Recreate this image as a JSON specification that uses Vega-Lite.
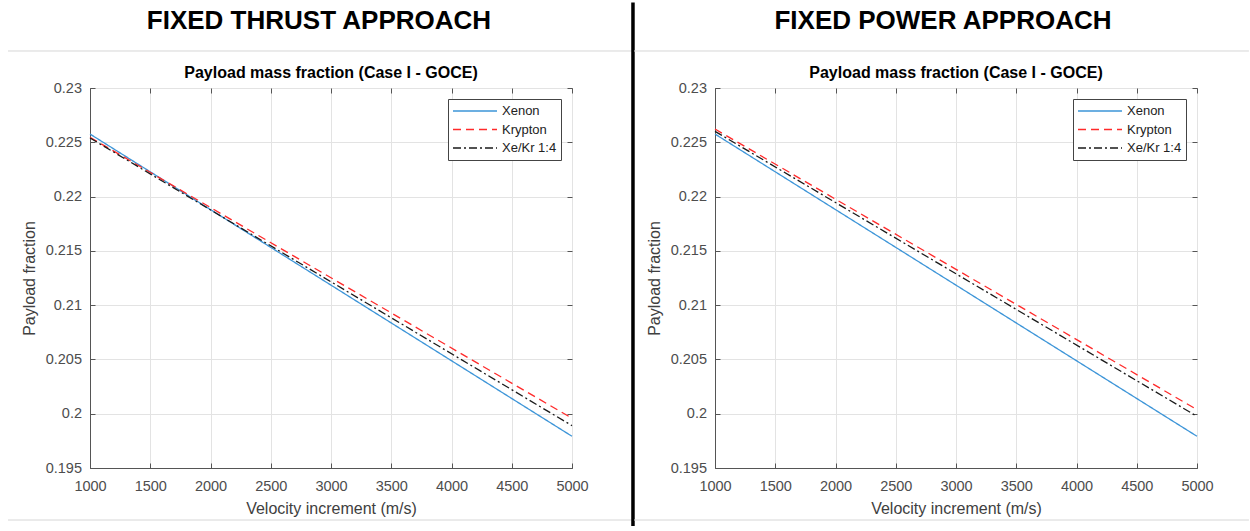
{
  "$schema": "https://vega.github.io/schema/vega-lite/v6.json",
  "autosize": {"type": "pad"},
  "padding": {"left": 6, "top": 0, "right": 0, "bottom": 0},
  "background": "white",
  "bounds": "flush",
  "spacing": 143,
  "resolve": {"scale": {"color": "independent", "strokeDash": "independent"}},
  "datasets": {
    "thrust": [
      {"propellant": "Xenon", "dv": 1000, "fraction": 0.22576},
      {"propellant": "Xenon", "dv": 3000, "fraction": 0.21184},
      {"propellant": "Xenon", "dv": 5000, "fraction": 0.19792},
      {"propellant": "Krypton", "dv": 1000, "fraction": 0.22546},
      {"propellant": "Krypton", "dv": 3000, "fraction": 0.21252},
      {"propellant": "Krypton", "dv": 5000, "fraction": 0.19958},
      {"propellant": "Xe/Kr 1:4", "dv": 1000, "fraction": 0.2254},
      {"propellant": "Xe/Kr 1:4", "dv": 3000, "fraction": 0.21215},
      {"propellant": "Xe/Kr 1:4", "dv": 5000, "fraction": 0.1989}
    ],
    "power": [
      {"propellant": "Xenon", "dv": 1000, "fraction": 0.22576},
      {"propellant": "Xenon", "dv": 3000, "fraction": 0.21184},
      {"propellant": "Xenon", "dv": 5000, "fraction": 0.19792},
      {"propellant": "Krypton", "dv": 1000, "fraction": 0.22622},
      {"propellant": "Krypton", "dv": 3000, "fraction": 0.2133},
      {"propellant": "Krypton", "dv": 5000, "fraction": 0.20037},
      {"propellant": "Xe/Kr 1:4", "dv": 1000, "fraction": 0.22601},
      {"propellant": "Xe/Kr 1:4", "dv": 3000, "fraction": 0.21289},
      {"propellant": "Xe/Kr 1:4", "dv": 5000, "fraction": 0.19976}
    ]
  },
  "hconcat": [
    {
      "width": 482,
      "height": 380,
      "layer": [
        {
          "data": {"name": "thrust"},
          "mark": {"type": "line", "strokeWidth": 1.3},
          "encoding": {
            "x": {"field": "dv", "type": "quantitative", "scale": {"domain": [1000, 5000], "nice": false, "zero": false},
              "axis": {"orient": "bottom", "values": [1000, 1500, 2000, 2500, 3000, 3500, 4000, 4500, 5000], "format": "d", "title": "Velocity increment (m/s)", "grid": true, "labelFlush": false, "labelPadding": 16, "titlePadding": 8}},
            "y": {"field": "fraction", "type": "quantitative", "scale": {"domain": [0.195, 0.23], "nice": false, "zero": false},
              "axis": {"orient": "left", "values": [0.195, 0.2, 0.205, 0.21, 0.215, 0.22, 0.225, 0.23], "format": ".3~f", "title": "Payload fraction", "grid": true, "labelFlush": false, "labelPadding": 13.5, "titlePadding": 8}},
            "color": {"field": "propellant", "type": "nominal", "scale": {"domain": ["Xenon", "Krypton", "Xe/Kr 1:4"], "range": ["#3d95d8", "#ff2a2a", "#1a1a1a"]}, "legend": {"title": null}},
            "strokeDash": {"field": "propellant", "type": "nominal", "scale": {"domain": ["Xenon", "Krypton", "Xe/Kr 1:4"], "range": [[1, 0], [8, 5], [8, 3, 2, 3]]}, "legend": {"title": null}}
          }
        },
        {
          "data": {"values": [{}]},
          "mark": {"type": "rule", "color": "#d6d6d6", "strokeWidth": 1},
          "encoding": {
            "x": {"datum": 319.5, "type": "quantitative", "scale": {"domain": [1000, 5000], "nice": false, "zero": false},
              "axis": {"orient": "top", "labels": false, "title": null, "grid": false, "domain": false, "values": [1000, 1500, 2000, 2500, 3000, 3500, 4000, 4500, 5000]}},
            "x2": {"datum": 5500},
            "y": {"datum": 0.233408, "type": "quantitative", "scale": {"domain": [0.195, 0.23], "nice": false, "zero": false},
              "axis": {"orient": "right", "labels": false, "title": null, "grid": false, "domain": false, "values": [0.195, 0.2, 0.205, 0.21, 0.215, 0.22, 0.225, 0.23]}}
          }
        },
        {
          "data": {"values": [{}]},
          "mark": {"type": "rule", "color": "#d6d6d6", "strokeWidth": 1},
          "encoding": {
            "x": {"datum": 319.5, "type": "quantitative", "scale": {"domain": [1000, 5000], "nice": false, "zero": false}, "axis": null},
            "x2": {"datum": 5500},
            "y": {"datum": 0.19021, "type": "quantitative", "scale": {"domain": [0.195, 0.23], "nice": false, "zero": false}, "axis": null}
          }
        },
        {
          "data": {"values": [{}]},
          "mark": {"type": "rule", "color": "#000000", "strokeWidth": 3.5},
          "encoding": {
            "x": {"datum": 5506, "type": "quantitative", "scale": {"domain": [1000, 5000], "nice": false, "zero": false}, "axis": null},
            "y": {"datum": 0.237875, "type": "quantitative", "scale": {"domain": [0.195, 0.23], "nice": false, "zero": false}, "axis": null},
            "y2": {"datum": 0.18966}
          }
        },
        {
          "data": {"values": [{}]},
          "mark": {"type": "text", "font": "Liberation Sans", "fontSize": 26, "fontWeight": "bold", "align": "center", "baseline": "middle", "color": "#000000"},
          "encoding": {
            "x": {"datum": 2900, "type": "quantitative", "scale": {"domain": [1000, 5000], "nice": false, "zero": false}, "axis": null},
            "y": {"datum": 0.236171, "type": "quantitative", "scale": {"domain": [0.195, 0.23], "nice": false, "zero": false}, "axis": null},
            "text": {"value": "FIXED THRUST APPROACH"}
          }
        },
        {
          "data": {"values": [{}]},
          "mark": {"type": "text", "font": "Liberation Sans", "fontSize": 16, "fontWeight": "bold", "align": "center", "baseline": "alphabetic", "color": "#000000"},
          "encoding": {
            "x": {"datum": 3000, "type": "quantitative", "scale": {"domain": [1000, 5000], "nice": false, "zero": false}, "axis": null},
            "y": {"datum": 0.230921, "type": "quantitative", "scale": {"domain": [0.195, 0.23], "nice": false, "zero": false}, "axis": null},
            "text": {"value": "Payload mass fraction (Case I - GOCE)"}
          }
        }
      ]
    },
    {
      "width": 482,
      "height": 380,
      "layer": [
        {
          "data": {"name": "power"},
          "mark": {"type": "line", "strokeWidth": 1.3},
          "encoding": {
            "x": {"field": "dv", "type": "quantitative", "scale": {"domain": [1000, 5000], "nice": false, "zero": false},
              "axis": {"orient": "bottom", "values": [1000, 1500, 2000, 2500, 3000, 3500, 4000, 4500, 5000], "format": "d", "title": "Velocity increment (m/s)", "grid": true, "labelFlush": false, "labelPadding": 16, "titlePadding": 8}},
            "y": {"field": "fraction", "type": "quantitative", "scale": {"domain": [0.195, 0.23], "nice": false, "zero": false},
              "axis": {"orient": "left", "values": [0.195, 0.2, 0.205, 0.21, 0.215, 0.22, 0.225, 0.23], "format": ".3~f", "title": "Payload fraction", "grid": true, "labelFlush": false, "labelPadding": 13.5, "titlePadding": 8}},
            "color": {"field": "propellant", "type": "nominal", "scale": {"domain": ["Xenon", "Krypton", "Xe/Kr 1:4"], "range": ["#3d95d8", "#ff2a2a", "#1a1a1a"]}, "legend": {"title": null}},
            "strokeDash": {"field": "propellant", "type": "nominal", "scale": {"domain": ["Xenon", "Krypton", "Xe/Kr 1:4"], "range": [[1, 0], [8, 5], [8, 3, 2, 3]]}, "legend": {"title": null}}
          }
        },
        {
          "data": {"values": [{}]},
          "mark": {"type": "rule", "color": "#d6d6d6", "strokeWidth": 1},
          "encoding": {
            "x": {"datum": 328, "type": "quantitative", "scale": {"domain": [1000, 5000], "nice": false, "zero": false},
              "axis": {"orient": "top", "labels": false, "title": null, "grid": false, "domain": false, "values": [1000, 1500, 2000, 2500, 3000, 3500, 4000, 4500, 5000]}},
            "x2": {"datum": 5431},
            "y": {"datum": 0.233408, "type": "quantitative", "scale": {"domain": [0.195, 0.23], "nice": false, "zero": false},
              "axis": {"orient": "right", "labels": false, "title": null, "grid": false, "domain": false, "values": [0.195, 0.2, 0.205, 0.21, 0.215, 0.22, 0.225, 0.23]}}
          }
        },
        {
          "data": {"values": [{}]},
          "mark": {"type": "rule", "color": "#d6d6d6", "strokeWidth": 1},
          "encoding": {
            "x": {"datum": 328, "type": "quantitative", "scale": {"domain": [1000, 5000], "nice": false, "zero": false}, "axis": null},
            "x2": {"datum": 5431},
            "y": {"datum": 0.19021, "type": "quantitative", "scale": {"domain": [0.195, 0.23], "nice": false, "zero": false}, "axis": null}
          }
        },
        {
          "data": {"values": [{}]},
          "mark": {"type": "text", "font": "Liberation Sans", "fontSize": 26, "fontWeight": "bold", "align": "center", "baseline": "middle", "color": "#000000"},
          "encoding": {
            "x": {"datum": 2892, "type": "quantitative", "scale": {"domain": [1000, 5000], "nice": false, "zero": false}, "axis": null},
            "y": {"datum": 0.236171, "type": "quantitative", "scale": {"domain": [0.195, 0.23], "nice": false, "zero": false}, "axis": null},
            "text": {"value": "FIXED POWER APPROACH"}
          }
        },
        {
          "data": {"values": [{}]},
          "mark": {"type": "text", "font": "Liberation Sans", "fontSize": 16, "fontWeight": "bold", "align": "center", "baseline": "alphabetic", "color": "#000000"},
          "encoding": {
            "x": {"datum": 3000, "type": "quantitative", "scale": {"domain": [1000, 5000], "nice": false, "zero": false}, "axis": null},
            "y": {"datum": 0.230921, "type": "quantitative", "scale": {"domain": [0.195, 0.23], "nice": false, "zero": false}, "axis": null},
            "text": {"value": "Payload mass fraction (Case I - GOCE)"}
          }
        }
      ]
    }
  ],
  "config": {
    "font": "Liberation Sans",
    "view": {"stroke": "#555555", "strokeWidth": 1},
    "axis": {
      "domainColor": "#555555",
      "tickColor": "#555555",
      "tickSize": -5,
      "gridColor": "#e3e3e3",
      "gridWidth": 1,
      "labelColor": "#4d4d4d",
      "labelFont": "Liberation Sans",
      "labelFontSize": 14.5,
      "titleFont": "Liberation Sans",
      "titleFontSize": 16,
      "titleFontWeight": "normal",
      "titleColor": "#404040"
    },
    "legend": {
      "orient": "top-right",
      "offset": 11,
      "padding": 4,
      "strokeColor": "#444444",
      "fillColor": "#ffffff",
      "rowPadding": 2.5,
      "clipHeight": 16,
      "labelFont": "Liberation Sans",
      "labelFontSize": 13,
      "labelColor": "#222222",
      "labelOffset": 4,
      "symbolType": "stroke",
      "symbolSize": 1936,
      "symbolStrokeWidth": 1.3
    }
  }
}
